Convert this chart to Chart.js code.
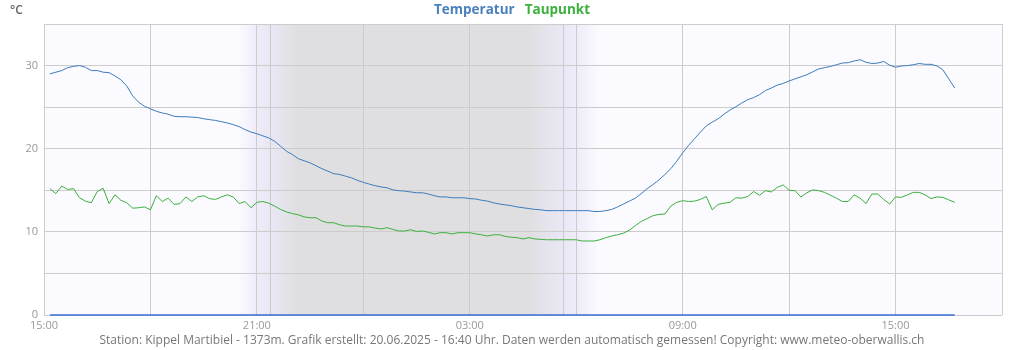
<!DOCTYPE html>
<html><head><meta charset="utf-8">
<script src="https://cdn.jsdelivr.net/npm/chart.js@4.4.1/dist/chart.umd.min.js"></script>
<style>
html,body{margin:0;padding:0;background:#fff;}
#wrap{position:relative;width:1024px;height:350px;font-family:"Open Sans",sans-serif;}
#c{position:absolute;left:0;top:0;}
#unit{position:absolute;left:10px;top:1px;font-size:12px;color:#666;font-weight:600;}
#legend{position:absolute;left:0;width:1024px;top:0px;text-align:center;font-size:13.5px;font-weight:700;padding-left:0;}
#legend span{margin:0 5px;}
#footer{position:absolute;left:0;width:1024px;top:331px;text-align:center;font-size:12px;color:#777;}
</style></head>
<body><div id="wrap">
<canvas id="c" width="1024" height="350"></canvas>
<div id="unit">°C</div>
<div id="legend"><span style="color:#4a80bd">Temperatur</span><span style="color:#3cb03c">Taupunkt</span></div>
<div id="footer">Station: Kippel Martibiel - 1373m. Grafik erstellt: 20.06.2025 - 16:40 Uhr. Daten werden automatisch gemessen! Copyright: www.meteo-oberwallis.ch</div>
</div>
<script>
// time axis: hours after 15:00; measurements every 10 minutes from 15:10 to 16:40 next day
const startLabel = "15:00";
const firstOffsetMin = 10;
const stepMin = 10;
const xTickLabels = {0:"15:00",6:"21:00",12:"03:00",18:"09:00",24:"15:00"};
const sunsetH = 6.38;   // ~21:23
const sunriseH = 14.62; // ~05:37

const temperatur = [
29.0,29.2,29.4,29.75,29.9,30.0,29.8,29.4,29.4,29.2,29.15,28.75,28.3,27.55,26.35,25.6,25.1,24.8,24.5,24.3,24.15,23.9,23.85,23.85,23.8,23.75,23.6,23.5,23.4,23.25,23.1,22.9,22.65,22.3,22.0,21.8,21.55,21.3,20.9,
20.3,19.7,19.3,18.8,18.55,18.3,17.95,17.6,17.3,17.0,16.9,16.7,16.5,16.2,15.95,15.75,15.55,15.4,15.3,15.05,14.95,14.9,14.8,14.7,14.7,14.55,14.35,14.2,14.2,14.1,14.1,14.1,14.0,13.95,13.8,13.7,13.5,13.35,13.25,
13.15,13.0,12.9,12.8,12.7,12.65,12.55,12.55,12.55,12.55,12.55,12.55,12.55,12.55,12.45,12.45,12.55,12.7,13.0,13.35,13.7,14.05,14.6,15.2,15.7,16.25,16.9,17.6,18.5,19.5,20.4,21.2,22.0,22.75,23.2,23.6,24.15,24.65,25.05,
25.5,25.9,26.15,26.5,27.0,27.3,27.65,27.85,28.15,28.4,28.65,28.9,29.25,29.6,29.75,29.9,30.1,30.3,30.35,30.55,30.7,30.4,30.25,30.3,30.5,30.05,29.8,29.95,30.0,30.1,30.25,30.15,30.15,29.95,29.5,28.4,27.3
];
const taupunkt = [
15.2,14.6,15.5,15.1,15.2,14.1,13.7,13.5,14.85,15.25,13.4,14.45,13.8,13.5,12.85,12.9,13.0,12.65,14.35,13.65,14.05,13.3,13.4,14.2,13.65,14.2,14.35,14.0,13.9,14.2,14.45,14.2,13.4,13.65,12.9,13.55,13.65,13.45,13.1,
12.7,12.4,12.2,12.05,11.8,11.7,11.7,11.3,11.1,11.1,10.85,10.7,10.7,10.7,10.6,10.6,10.45,10.35,10.5,10.3,10.1,10.1,10.25,10.05,10.1,9.95,9.75,9.9,9.9,9.75,9.9,9.9,9.9,9.75,9.65,9.5,9.65,9.65,9.45,
9.35,9.3,9.15,9.3,9.15,9.1,9.05,9.05,9.05,9.05,9.05,9.05,8.9,8.9,8.9,9.05,9.3,9.5,9.65,9.85,10.2,10.75,11.25,11.6,11.95,12.1,12.15,13.1,13.55,13.75,13.65,13.7,13.9,14.25,12.65,13.3,13.45,13.55,14.1,
14.05,14.25,14.85,14.4,14.95,14.8,15.35,15.65,15.0,14.95,14.2,14.7,15.05,14.95,14.75,14.4,14.05,13.65,13.65,14.45,14.05,13.4,14.55,14.55,13.9,13.35,14.2,14.15,14.45,14.75,14.75,14.45,14.0,14.2,14.15,13.85,13.55
];
const niederschlag = [
0,0,0,0,0,0,0,0,0,0,0,0,0,0,0,0,0,0,0,0,0,0,0,0,0,0,0,0,0,0,0,0,0,0,0,0,0,0,0,
0,0,0,0,0,0,0,0,0,0,0,0,0,0,0,0,0,0,0,0,0,0,0,0,0,0,0,0,0,0,0,0,0,0,0,0,0,0,0,
0,0,0,0,0,0,0,0,0,0,0,0,0,0,0,0,0,0,0,0,0,0,0,0,0,0,0,0,0,0,0,0,0,0,0,0,0,0,0,
0,0,0,0,0,0,0,0,0,0,0,0,0,0,0,0,0,0,0,0,0,0,0,0,0,0,0,0,0,0,0,0,0,0,0,0,0
];

function pts(arr){ return arr.map((v,i)=>({x:(firstOffsetMin+i*stepMin)/60, y:v})); }

const bgPlugin = {
  id:'bg',
  beforeDraw(chart){
    const {ctx, chartArea:a, scales:{x}} = chart;
    const px = h => x.getPixelForValue(h);
    const g = ctx.createLinearGradient(a.left,0,a.right,0);
    const stop = (h,c)=>{ let t=(px(h)-a.left)/(a.right-a.left); t=Math.max(0,Math.min(1,t)); g.addColorStop(t,c); };
    stop(0,'#fbfaff');
    stop(5.5,'#fbfaff');
    stop(6.0,'#efebf9');
    stop(sunsetH,'#eae7f5');
    stop(7.15,'#dfdfe1');
    stop(13.65,'#dfdfe1');
    stop(sunriseH,'#eae7f5');
    stop(15.0,'#efebf9');
    stop(15.65,'#fbfaff');
    stop(27,'#fbfaff');
    ctx.save();
    ctx.fillStyle = g;
    ctx.fillRect(a.left,a.top,a.right-a.left,a.bottom-a.top);
    ctx.restore();
  },
  beforeDatasetsDraw(chart){
    const {ctx, chartArea:a, scales:{x}} = chart;
    ctx.save();
    ctx.strokeStyle='#cccccc'; ctx.lineWidth=1;
    [sunsetH,sunriseH].forEach(h=>{
      const p=Math.round(x.getPixelForValue(h))+0.5;
      ctx.beginPath(); ctx.moveTo(p,a.top); ctx.lineTo(p,a.bottom); ctx.stroke();
    });
    ctx.restore();
  }
};

new Chart(document.getElementById('c'),{
  type:'line',
  data:{datasets:[
    {label:'Temperatur',data:pts(temperatur),borderColor:'#3d7dbd',borderWidth:1,pointRadius:0,tension:0,order:1},
    {label:'Taupunkt',data:pts(taupunkt),borderColor:'#3cb03c',borderWidth:1,pointRadius:0,tension:0,order:2},
    {label:'Niederschlag',data:pts(niederschlag),borderColor:'#3a6ed8',borderWidth:1.5,pointRadius:0,tension:0,order:0,clip:false}
  ]},
  options:{
    responsive:false,animation:false,
    layout:{padding:{top:24,right:22,bottom:15,left:0}},
    plugins:{legend:{display:false},title:{display:false},tooltip:{enabled:false}},
    scales:{
      x:{type:'linear',min:0,max:27,
        afterFit(s){s.height=20;},
        afterBuildTicks(s){ const t=[]; for(let h=0;h<=27;h+=3) t.push({value:h}); s.ticks=t; },
        ticks:{autoSkip:false,maxRotation:0,padding:4,color:'#999',font:{family:'Open Sans',size:11},
          callback:v=> (xTickLabels[v]!==undefined? xTickLabels[v] : '')},
        grid:{color:'#cccccc',drawTicks:false,lineWidth:1},
        border:{display:false}},
      y:{min:0,max:35,
        afterFit(s){s.width=44;},
        ticks:{stepSize:5,padding:6,color:'#999',font:{family:'Open Sans',size:11},
          callback:v=> (v%10===0? String(v):'')},
        grid:{color:'#cccccc',drawTicks:false,lineWidth:1},
        border:{display:false}}
    }
  },
  plugins:[bgPlugin]
});
</script>
</body></html>
